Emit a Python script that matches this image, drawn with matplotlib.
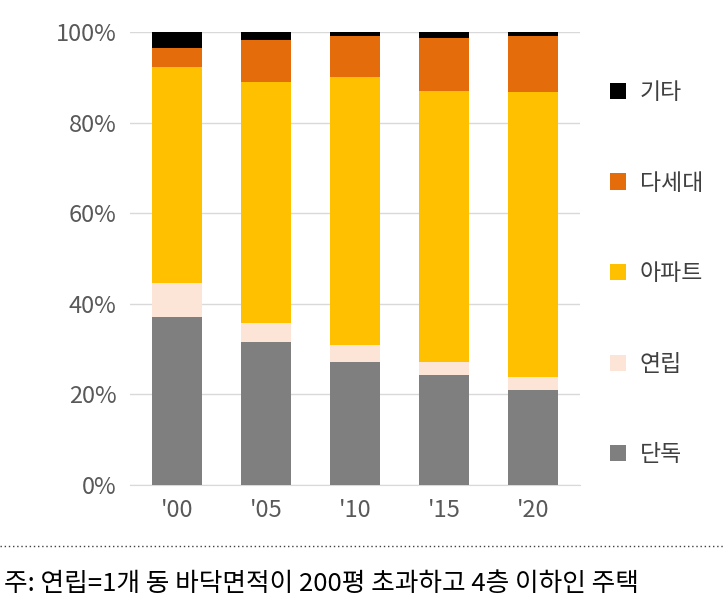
import matplotlib.pyplot as plt
import numpy as np
from matplotlib.lines import Line2D

plt.rcParams["font.family"] = "Noto Sans CJK KR"

years = ["'00", "'05", "'10", "'15", "'20"]
detached = [37.1, 31.6, 27.2, 24.3, 21.0]
rowhouse = [7.5, 4.2, 3.7, 2.9, 2.8]
apartment = [47.7, 53.2, 59.2, 59.8, 63.0]
multi = [4.2, 9.2, 9.0, 11.7, 12.3]
other = [3.5, 1.8, 0.9, 1.3, 0.9]

series = [("단독", detached, "#7f7f7f"), ("연립", rowhouse, "#fce4d6"),
          ("아파트", apartment, "#ffc000"), ("다세대", multi, "#e46c0a"),
          ("기타", other, "#000000")]

fig = plt.figure(figsize=(7.23, 6.03), dpi=100)
ax = fig.add_axes([0.18, 0.196, 0.622, 0.751])
x = np.arange(len(years))
bottom = np.zeros(len(years))
handles = []
for name, vals, color in series:
    h = ax.bar(x, vals, 0.56, bottom=bottom, color=color, label=name, zorder=3)
    bottom += np.array(vals)
    handles.append(h)

ax.set_ylim(0, 100)
ax.set_xlim(-0.53, 4.53)
ax.set_yticks(range(0, 101, 20))
ax.set_yticklabels([f"{v}%" for v in range(0, 101, 20)], fontsize=17, color="#595959")
ax.set_xticks(x)
ax.set_xticklabels(years, fontsize=17, color="#595959")
ax.tick_params(length=0, pad=10)
ax.grid(axis="y", color="#d9d9d9", linewidth=1, zorder=0)
for s in ["top", "right", "left"]:
    ax.spines[s].set_visible(False)
ax.spines["bottom"].set_color("#d9d9d9")

leg = fig.legend(handles[::-1], [s[0] for s in series][::-1], loc="upper left",
                 bbox_to_anchor=(0.815, 0.9), frameon=False, fontsize=16.5,
                 handlelength=0.7, handleheight=0.7, labelspacing=2.95,
                 handletextpad=0.6, labelcolor="#404040")

fig.add_artist(Line2D([0.0, 1.0], [0.095, 0.095], transform=fig.transFigure,
                      color="#404040", linestyle=(0, (1, 2)), linewidth=1))
fig.text(0.005, 0.02, "주: 연립=1개 동 바닥면적이 200평 초과하고 4층 이하인 주택",
         fontsize=18.5, color="#000000")

fig.savefig("out.png", dpi=100)
